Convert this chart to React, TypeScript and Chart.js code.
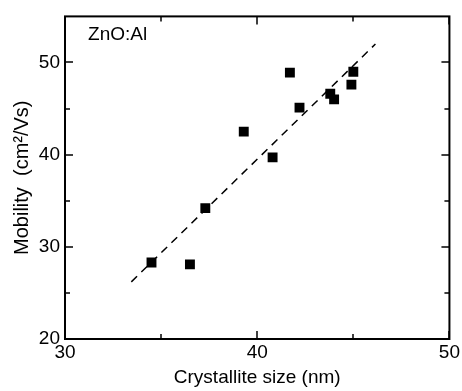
import React, { useEffect, useRef } from "react";
import { Chart, registerables } from "chart.js";

Chart.register(...registerables);

const crystalliteSize = [34.5, 36.5, 37.3, 39.3, 40.8, 41.7, 42.2, 43.8, 44.0, 44.9, 45.0];
const mobility = [28.3, 28.1, 34.2, 42.5, 39.7, 48.9, 45.1, 46.6, 46.0, 47.6, 49.0];
const fitX = [33.45, 46.15];
const fitY = [26.2, 52.0];
const xMajorTicks = [30, 40, 50];
const xMinorTicks = [35, 45];
const yMajorTicks = [20, 30, 40, 50];
const yMinorTicks = [25, 35, 45];
const sampleLabel = "ZnO:Al";
const FONT = "'Liberation Sans', Arial, sans-serif";

const framePlugin = {
  id: "frame",
  afterDraw(chart: any) {
    const { ctx, chartArea: a, scales } = chart;
    const xs = scales.x;
    const ys = scales.y;
    ctx.save();
    ctx.strokeStyle = "#000";
    ctx.lineWidth = 2;
    ctx.strokeRect(a.left, a.top, a.right - a.left, a.bottom - a.top);
    ctx.lineWidth = 1.5;
    const drawX = (v: number, len: number) => {
      const px = Math.round(xs.getPixelForValue(v));
      ctx.beginPath();
      ctx.moveTo(px, a.bottom);
      ctx.lineTo(px, a.bottom - len);
      ctx.moveTo(px, a.top);
      ctx.lineTo(px, a.top + len);
      ctx.stroke();
    };
    const drawY = (v: number, len: number) => {
      const py = Math.round(ys.getPixelForValue(v));
      ctx.beginPath();
      ctx.moveTo(a.left, py);
      ctx.lineTo(a.left + len, py);
      ctx.moveTo(a.right, py);
      ctx.lineTo(a.right - len, py);
      ctx.stroke();
    };
    xMajorTicks.forEach((v) => drawX(v, 8));
    xMinorTicks.forEach((v) => drawX(v, 5));
    yMajorTicks.forEach((v) => drawY(v, 8));
    yMinorTicks.forEach((v) => drawY(v, 5));
    ctx.fillStyle = "#000";
    ctx.font = `19px ${FONT}`;
    ctx.textBaseline = "middle";
    ctx.textAlign = "left";
    ctx.fillText(sampleLabel, xs.getPixelForValue(31.2), ys.getPixelForValue(53.0));
    ctx.restore();
  },
};

export default function App() {
  const ref = useRef<HTMLCanvasElement | null>(null);
  useEffect(() => {
    if (!ref.current) return;
    const chart = new Chart(ref.current, {
      type: "scatter",
      data: {
        datasets: [
          {
            type: "line",
            data: fitX.map((x, i) => ({ x, y: fitY[i] })),
            borderColor: "#000",
            borderWidth: 1.5,
            borderDash: [8, 6],
            pointRadius: 0,
            fill: false,
          } as any,
          {
            data: crystalliteSize.map((x, i) => ({ x, y: mobility[i] })),
            pointStyle: "rect",
            pointRadius: 7,
            backgroundColor: "#000",
            borderColor: "#000",
            borderWidth: 0,
          },
        ],
      },
      options: {
        responsive: true,
        maintainAspectRatio: false,
        animation: false,
        layout: { padding: { top: 6, right: 10, left: 0, bottom: 0 } },
        plugins: { legend: { display: false }, tooltip: { enabled: false } },
        scales: {
          x: {
            type: "linear",
            min: 30,
            max: 50,
            afterBuildTicks: (s: any) => {
              s.ticks = xMajorTicks.map((v) => ({ value: v }));
            },
            afterFit: (s: any) => {
              s.height = 52;
            },
            grid: { display: false, drawTicks: false },
            border: { display: false },
            ticks: {
              color: "#000",
              font: { family: FONT, size: 19 },
              padding: 2,
              maxRotation: 0,
            },
            title: {
              display: true,
              text: "Crystallite size (nm)",
              color: "#000",
              font: { family: FONT, size: 19 },
              padding: { top: 0, bottom: 2 },
            },
          },
          y: {
            type: "linear",
            min: 20,
            max: 55,
            afterBuildTicks: (s: any) => {
              s.ticks = yMajorTicks.map((v) => ({ value: v }));
            },
            afterFit: (s: any) => {
              s.width = 65;
            },
            grid: { display: false, drawTicks: false },
            border: { display: false },
            ticks: {
              color: "#000",
              font: { family: FONT, size: 19 },
              padding: 5,
            },
            title: {
              display: true,
              text: "Mobility  (cm\u00B2/Vs)",
              color: "#000",
              font: { family: FONT, size: 20 },
              padding: { top: 10, bottom: 0 },
            },
          },
        },
      },
      plugins: [framePlugin],
    });
    return () => chart.destroy();
  }, []);
  return (
    <div style={{ position: "absolute", left: 0, top: 0, width: 462, height: 391, background: "#fff" }}>
      <canvas ref={ref} />
    </div>
  );
}
